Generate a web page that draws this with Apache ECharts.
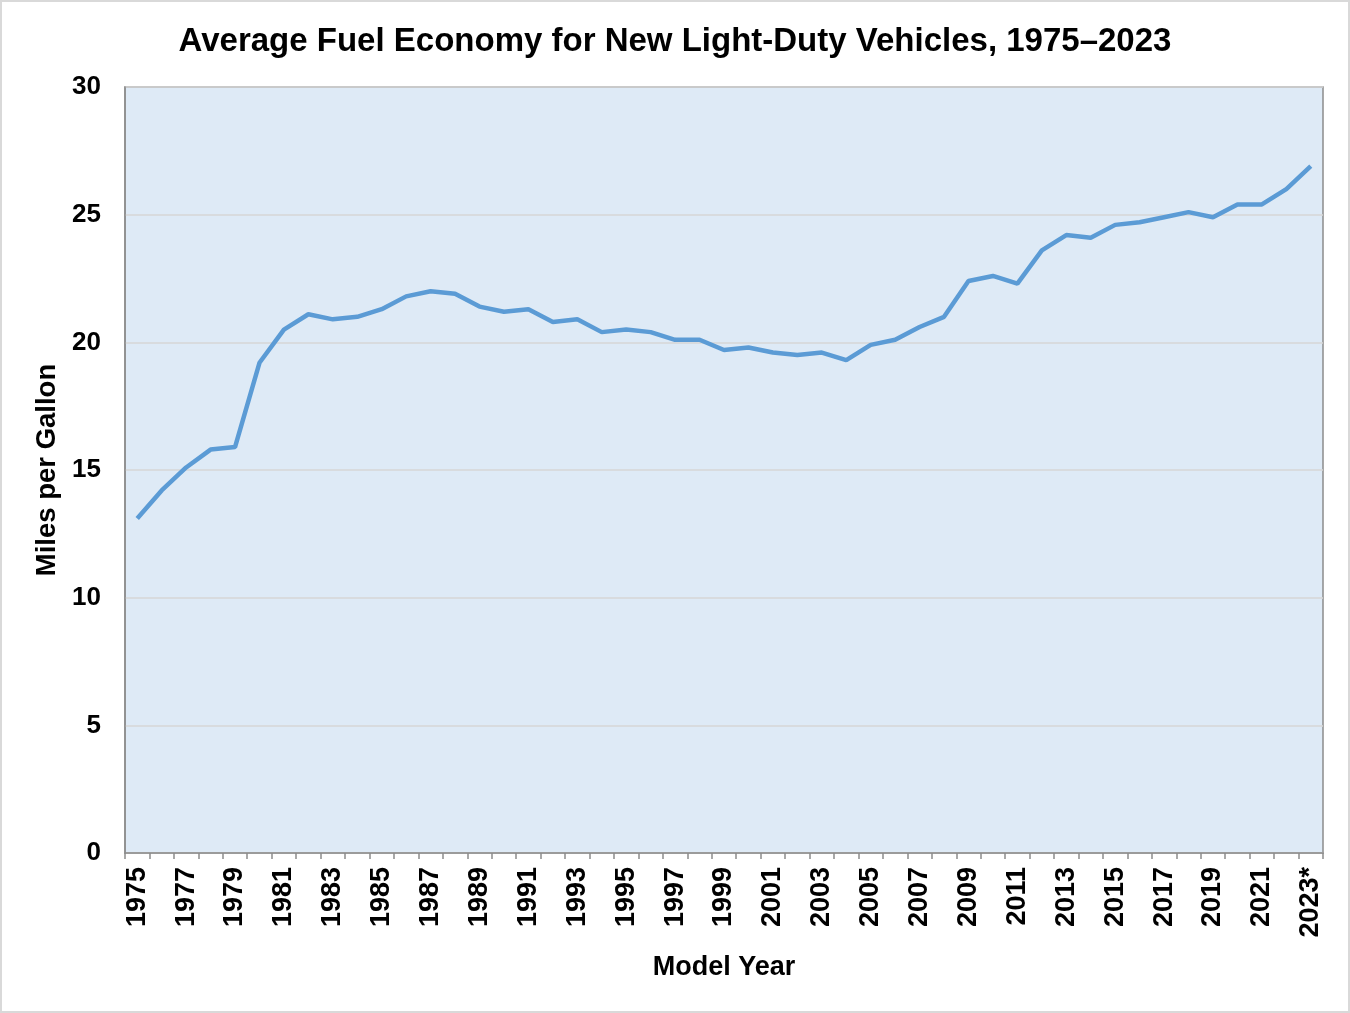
<!DOCTYPE html>
<html>
<head>
<meta charset="utf-8">
<script src="https://cdn.jsdelivr.net/npm/echarts@6/dist/echarts.min.js"></script>
<style>
  html, body { margin: 0; padding: 0; background: #fff; }
  #main { width: 1350px; height: 1013px; box-sizing: border-box; border: 2px solid #d9d9d9; }
</style>
</head>
<body>
<div id="main"></div>
<script>
// model years, 1975-2023 (2023 is preliminary)
var years = ['1975','1976','1977','1978','1979','1980','1981','1982','1983','1984',
             '1985','1986','1987','1988','1989','1990','1991','1992','1993','1994',
             '1995','1996','1997','1998','1999','2000','2001','2002','2003','2004',
             '2005','2006','2007','2008','2009','2010','2011','2012','2013','2014',
             '2015','2016','2017','2018','2019','2020','2021','2022','2023*'];

// average real-world fuel economy, mpg
var mpg = [13.1, 14.2, 15.1, 15.8, 15.9, 19.2, 20.5, 21.1, 20.9, 21.0,
           21.3, 21.8, 22.0, 21.9, 21.4, 21.2, 21.3, 20.8, 20.9, 20.4,
           20.5, 20.4, 20.1, 20.1, 19.7, 19.8, 19.6, 19.5, 19.6, 19.3,
           19.9, 20.1, 20.6, 21.0, 22.4, 22.6, 22.3, 23.6, 24.2, 24.1,
           24.6, 24.7, 24.9, 25.1, 24.9, 25.4, 25.4, 26.0, 26.9];

var yTicks = [0, 5, 10, 15, 20, 25, 30];

var font = '"Liberation Sans", Arial, sans-serif';
var chart = echarts.init(document.getElementById('main'));

var option = {
    animation: false,
    title: {
        text: 'Average Fuel Economy for New Light-Duty Vehicles, 1975\u20132023',
        left: 'center',
        top: 18,
        textStyle: { fontFamily: font, fontWeight: 'bold', fontSize: 33, color: '#000' }
    },
    grid: {
        left: 123, right: 25, top: 85, bottom: 158,
        show: true,
        backgroundColor: '#deeaf6',
        borderColor: '#8c8c8c',
        borderWidth: 1.5
    },
    xAxis: {
        type: 'category',
        data: years,
        boundaryGap: true,
        name: 'Model Year',
        nameLocation: 'middle',
        nameGap: 101,
        nameTextStyle: { fontFamily: font, fontWeight: 'bold', fontSize: 27, color: '#000' },
        axisLine: { lineStyle: { color: '#8c8c8c', width: 1.5 } },
        axisTick: { show: true, interval: 0, length: 6, lineStyle: { color: '#8c8c8c', width: 1.5 } },
        axisLabel: {
            interval: 1,
            rotate: 90,
            margin: 14,
            fontFamily: font, fontWeight: 'bold', fontSize: 27, color: '#000'
        }
    },
    yAxis: {
        type: 'value',
        min: yTicks[0],
        max: yTicks[yTicks.length - 1],
        interval: 5,
        name: 'Miles per Gallon',
        nameLocation: 'middle',
        nameGap: 64,
        nameTextStyle: { fontFamily: font, fontWeight: 'bold', fontSize: 27.5, color: '#000' },
        axisLine: { show: true, lineStyle: { color: '#8c8c8c', width: 1.5 } },
        axisTick: { show: false },
        axisLabel: { margin: 24, fontFamily: font, fontWeight: 'bold', fontSize: 26, color: '#000' },
        splitLine: { lineStyle: { color: '#d6d6d6', width: 1.5 } }
    },
    series: [{
        type: 'line',
        data: mpg,
        symbol: 'none',
        lineStyle: { color: '#5b9bd5', width: 4.5 }
    }]
};

chart.setOption(option);
</script>
</body>
</html>
